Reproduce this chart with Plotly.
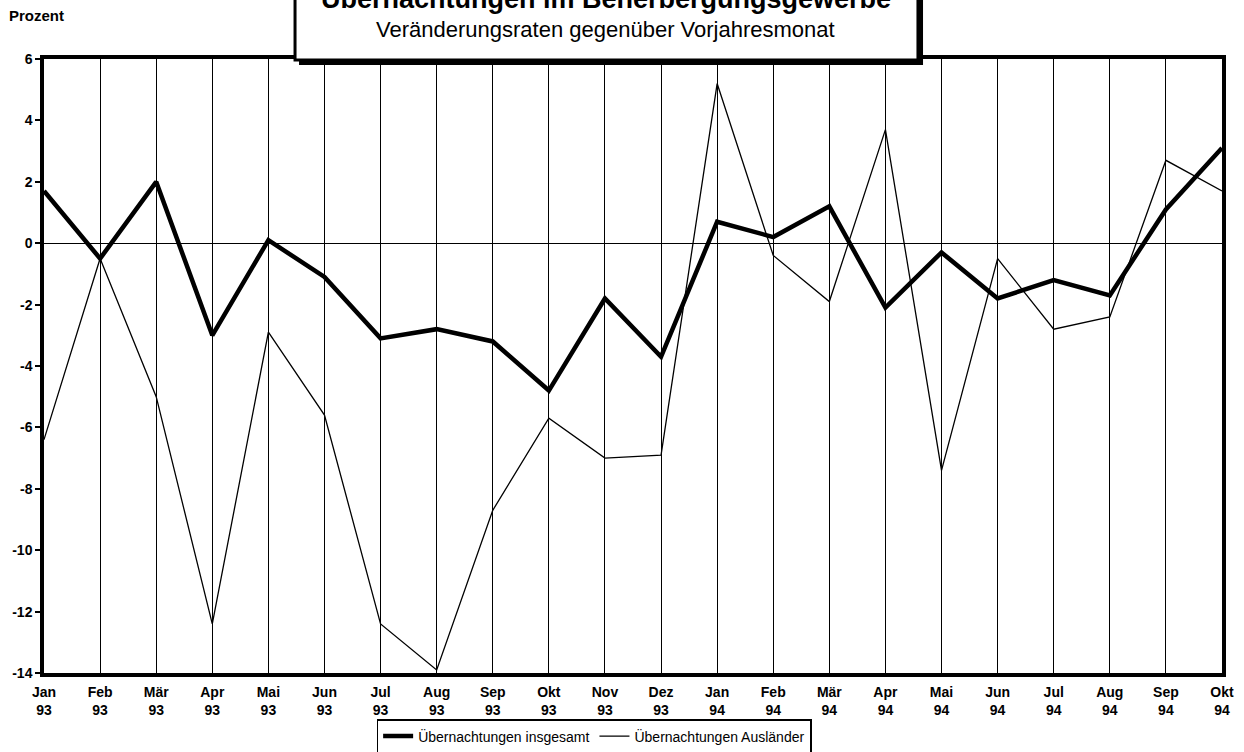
import plotly.graph_objects as go

months = ["Jan", "Feb", "Mär", "Apr", "Mai", "Jun", "Jul", "Aug", "Sep", "Okt", "Nov", "Dez",
          "Jan", "Feb", "Mär", "Apr", "Mai", "Jun", "Jul", "Aug", "Sep", "Okt"]
years = ["93"] * 12 + ["94"] * 10
tick_labels = [f"{m}<br>{y}" for m, y in zip(months, years)]

insgesamt = [1.7, -0.5, 2.0, -3.0, 0.1, -1.1, -3.1, -2.8, -3.2, -4.8, -1.8, -3.7,
             0.7, 0.2, 1.2, -2.1, -0.3, -1.8, -1.2, -1.7, 1.1, 3.1]
auslaender = [-6.4, -0.5, -5.0, -12.4, -2.9, -5.6, -12.4, -13.9, -8.7, -5.7, -7.0, -6.9,
              5.2, -0.4, -1.9, 3.7, -7.4, -0.5, -2.8, -2.4, 2.7, 1.7]
y_ticks = [6, 4, 2, 0, -2, -4, -6, -8, -10, -12, -14]

x = list(range(len(months)))
FONT = "Liberation Sans, Arial, sans-serif"

fig = go.Figure()
fig.add_trace(go.Scatter(x=x, y=insgesamt, mode="lines", name="Übernachtungen insgesamt",
                         line=dict(color="black", width=4.5)))
fig.add_trace(go.Scatter(x=x, y=auslaender, mode="lines", name="Übernachtungen Ausländer",
                         line=dict(color="black", width=1.3)))

fig.update_layout(
    width=1244, height=752,
    margin=dict(l=44, r=22, t=59, b=79, autoexpand=False),
    paper_bgcolor="white", plot_bgcolor="white",
    font=dict(family=FONT, color="black"),
    showlegend=True,
    legend=dict(orientation="h", xref="paper", yref="container",
                x=0.467, xanchor="center", y=1 - 719 / 752, yanchor="top",
                bordercolor="black", borderwidth=1.5, bgcolor="white",
                font=dict(size=14, family=FONT), itemwidth=30, tracegroupgap=0),
)
fig.update_xaxes(range=[0, len(months) - 1], tickvals=x, ticktext=tick_labels,
                 showgrid=True, gridcolor="black", gridwidth=1.2,
                 showline=True, linecolor="black", linewidth=3.5, mirror=True,
                 ticks="", ticklabelstandoff=3, automargin=False,
                 tickfont=dict(size=14, family=FONT, weight="bold"),
                 zeroline=False, fixedrange=True)
fig.update_yaxes(range=[-14, 6], tickvals=y_ticks, ticktext=[str(v) for v in y_ticks],
                 showgrid=False, zeroline=True, zerolinecolor="black", zerolinewidth=1.2,
                 showline=True, linecolor="black", linewidth=3.5, mirror=True,
                 ticks="outside", ticklen=5, tickwidth=2, tickcolor="black", automargin=False,
                 tickfont=dict(size=14, family=FONT, weight="bold"), fixedrange=True)

# title box with drop shadow
fig.add_shape(type="rect", xref="paper", yref="paper", x0=0.2165, x1=0.7462, y0=0.9902, y1=1.2,
              fillcolor="black", line=dict(width=0), layer="above")
fig.add_shape(type="rect", xref="paper", yref="paper", x0=0.2131, x1=0.7419, y0=0.9984, y1=1.2,
              fillcolor="white", line=dict(color="black", width=3), layer="above")
fig.add_annotation(xref="paper", yref="paper", x=0.477, y=1.0982, yanchor="middle",
                   text="<b>Übernachtungen im Beherbergungsgewerbe</b>", showarrow=False,
                   font=dict(size=27, family=FONT, color="black"))
fig.add_annotation(xref="paper", yref="paper", x=0.477, y=1.0476, yanchor="middle",
                   text="Veränderungsraten gegenüber Vorjahresmonat", showarrow=False,
                   font=dict(size=22, family=FONT, color="black"))
fig.add_annotation(xref="paper", yref="paper", x=-0.0314, y=1.0705, xanchor="left", yanchor="middle",
                   text="<b>Prozent</b>", showarrow=False,
                   font=dict(size=15, family=FONT, color="black"))

fig.write_html("out.html", config={"displayModeBar": False},
               post_script="document.body.style.margin='0';document.body.style.padding='0';")
